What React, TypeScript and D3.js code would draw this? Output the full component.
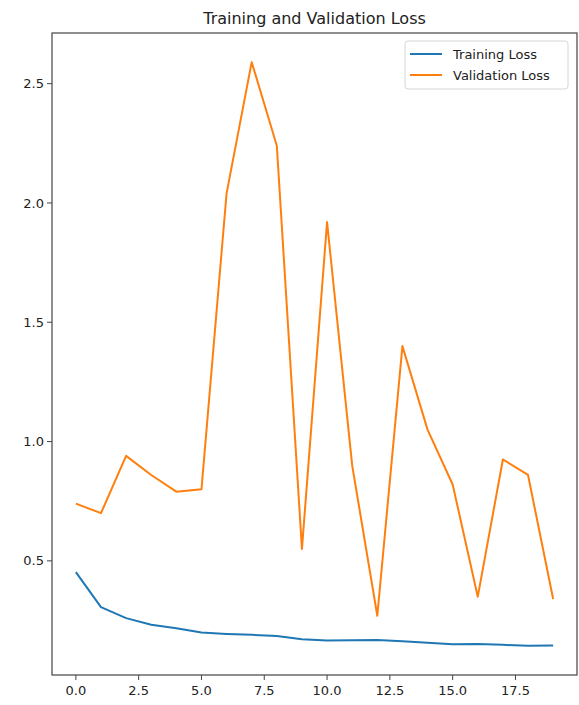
import * as d3 from "d3";

const EPOCHS = d3.range(20);
const TRAIN_LOSS = [0.453, 0.306, 0.26, 0.232, 0.218, 0.2, 0.194, 0.19, 0.185, 0.172, 0.166, 0.167, 0.168, 0.163, 0.157, 0.151, 0.152, 0.148, 0.144, 0.145];
const VAL_LOSS = [0.74, 0.70, 0.94, 0.86, 0.79, 0.80, 2.04, 2.59, 2.24, 0.55, 1.92, 0.90, 0.27, 1.40, 1.05, 0.82, 0.35, 0.925, 0.86, 0.34];
const X_TICKS = [0, 2.5, 5, 7.5, 10, 12.5, 15, 17.5];
const Y_TICKS = [0.5, 1.0, 1.5, 2.0, 2.5];
const SERIES = [
    { name: "Training Loss", values: TRAIN_LOSS, color: "#1f77b4" },
    { name: "Validation Loss", values: VAL_LOSS, color: "#ff7f0e" },
];

const W = 579;
const H = 705;
const plot = { left: 52, right: 577, top: 33, bottom: 675 };
const FONT = "DejaVu Sans, sans-serif";

export default function App() {
    const all = [...TRAIN_LOSS, ...VAL_LOSS];
    const [lo, hi] = d3.extent(all) as [number, number];
    const pad = (hi - lo) * 0.05;
    const x = d3.scaleLinear().domain([-0.95, 19.95]).range([plot.left, plot.right]);
    const y = d3.scaleLinear().domain([lo - pad, hi + pad]).range([plot.bottom, plot.top]);
    const line = d3
        .line<number>()
        .x((_, i) => x(EPOCHS[i]))
        .y((d) => y(d));

    return (
        <svg width={W} height={H} style={{ position: "absolute", left: 0, top: 0, background: "white" }} fontFamily={FONT}>
            <text x={(plot.left + plot.right) / 2} y={24} textAnchor="middle" fontSize={16} fill="#222">
                Training and Validation Loss
            </text>
            {SERIES.map((s) => (
                <path key={s.name} d={line(s.values) ?? ""} fill="none" stroke={s.color} strokeWidth={2} strokeLinejoin="round" />
            ))}
            <rect x={plot.left} y={plot.top} width={plot.right - plot.left} height={plot.bottom - plot.top} fill="none" stroke="#444" strokeWidth={1.2} />
            {X_TICKS.map((t) => (
                <g key={t} transform={`translate(${x(t)},${plot.bottom})`}>
                    <line y2={5} stroke="#444" />
                    <text y={20} textAnchor="middle" fontSize={13} fill="#222">
                        {t.toFixed(1)}
                    </text>
                </g>
            ))}
            {Y_TICKS.map((t) => (
                <g key={t} transform={`translate(${plot.left},${y(t)})`}>
                    <line x2={-5} stroke="#444" />
                    <text x={-8} dy="0.35em" textAnchor="end" fontSize={13} fill="#222">
                        {t.toFixed(1)}
                    </text>
                </g>
            ))}
            <g transform="translate(405,41)">
                <rect width={163} height={48} rx={3} fill="white" fillOpacity={0.8} stroke="#d6d6d6" />
                {SERIES.map((s, i) => (
                    <g key={s.name} transform={`translate(0,${13 + i * 21})`}>
                        <line x1={5} x2={37} stroke={s.color} strokeWidth={2} />
                        <text x={48} dy="0.35em" fontSize={13} fill="#222">
                            {s.name}
                        </text>
                    </g>
                ))}
            </g>
        </svg>
    );
}
